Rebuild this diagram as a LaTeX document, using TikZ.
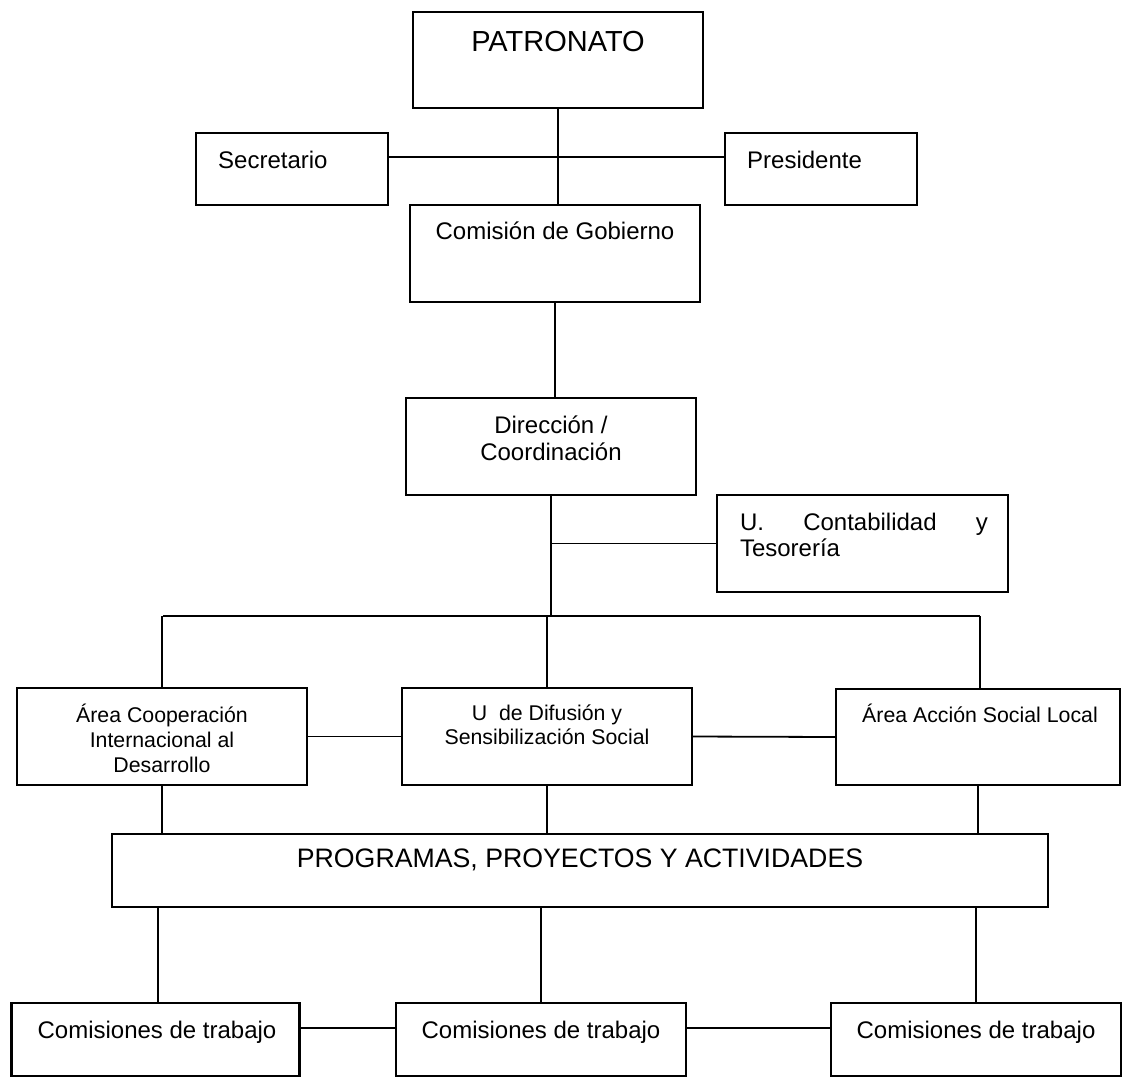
\documentclass[tikz,border=0pt]{standalone}
\usepackage{fontspec}
\setmainfont{Liberation Sans}
\tikzset{
  box/.style={draw, rectangle, line width=2.2pt, inner sep=0pt},
  conn/.style={line width=1.8pt},
  txt/.style={inner sep=0pt, align=center, font=\fontsize{24}{27}\selectfont},
  midtxt/.style={txt, font=\fontsize{21.3}{25}\selectfont},
}
\begin{document}
\begin{tikzpicture}[x=1pt, y=-1pt]
\useasboundingbox (0,0) rectangle (1123,1079);
% top
\node[box, minimum width=290pt, minimum height=96pt] (pat) at (558,60) {};
\node[txt, font=\fontsize{29}{32}\selectfont] (patt) at (558,42) {PATRONATO};
\node[box, minimum width=192pt, minimum height=72pt] (sec) at (292,169) {};
\node[txt, anchor=west] (sect) at (218,160) {Secretario};
\node[box, minimum width=192pt, minimum height=72pt] (pres) at (821,169) {};
\node[txt, anchor=west] (prest) at (747,160) {Presidente};
\node[box, minimum width=290pt, minimum height=97pt] (cg) at (555,253.5) {};
\node[txt] (cgt) at (555,231) {Comisión de Gobierno};
\node[box, minimum width=290pt, minimum height=97pt] (dir) at (551,446.5) {};
\node[txt] (dirt) at (551,438.5) {Dirección /\\Coordinación};
\node[box, minimum width=291pt, minimum height=97pt] (cont) at (862.5,543.5) {};
\node[txt, align=left, font=\fontsize{24}{26}\selectfont] (contt) at (864,535) {\makebox[248pt][s]{U.\ Contabilidad y}\\Tesorería};
% middle row
\node[box, minimum width=290pt, minimum height=97pt] (aco) at (162,736.5) {};
\node[midtxt] (acot) at (162,738) {Área Cooperación\\Internacional al\\Desarrollo};
\node[box, minimum width=290pt, minimum height=97pt] (dif) at (547,736.5) {};
\node[midtxt, font=\fontsize{21.3}{24}\selectfont] (dift) at (547,725) {U\ \ de Difusión y\\Sensibilización Social};
\node[box, minimum width=284pt, minimum height=96pt] (asl) at (978,737) {};
\node[midtxt] (aslt) at (980,713) {Área Acción Social Local};
% programas
\node[box, minimum width=936pt, minimum height=73pt] (prog) at (580,870.5) {};
\node[txt, font=\fontsize{26.7}{30}\selectfont] (progt) at (580,860) {PROGRAMAS, PROYECTOS Y ACTIVIDADES};
% comisiones
\node[box, minimum width=288pt, minimum height=73pt] (c1) at (155.5,1039.5) {};
\node[txt] (c1t) at (157,1032) {Comisiones de trabajo};
\node[box, minimum width=290pt, minimum height=73pt] (c2) at (541,1039.5) {};
\node[txt] (c2t) at (541,1032) {Comisiones de trabajo};
\node[box, minimum width=290pt, minimum height=73pt] (c3) at (976,1039.5) {};
\node[txt] (c3t) at (976,1032) {Comisiones de trabajo};
% connectors
\draw[conn] (pat.south) -- (pat.south |- cg.north);
\draw[conn] ([yshift=12pt]sec.east) -- ([yshift=12pt]pres.west);
\draw[conn] (cg.south) -- (cg.south |- dir.north);
\coordinate (hl) at (163,616);
\coordinate (hr) at (980,616);
\draw[conn] (hl) -- (hr);
\draw[conn] (dir.south) -- (dir.south |- hl);
\draw[conn] (dir.south |- cont.west) -- (cont.west);
\draw[conn] (aco.north) -- (aco.north |- hl);
\draw[conn] (dif.north) -- (dif.north |- hl);
\draw[conn] (asl.north -| hr) -- (hr);
\draw[conn] (aco.east) -- (dif.west);
\draw[conn] (dif.east) -- (asl.west);
\draw[conn] (aco.south) -- (aco.south |- prog.north);
\draw[conn] (dif.south) -- (dif.south |- prog.north);
\draw[conn] (asl.south) -- (asl.south |- prog.north);
\draw[conn] (c1.north -| 158,0) -- (prog.south -| 158,0);
\draw[conn] (c2.north) -- (c2.north |- prog.south);
\draw[conn] (c3.north) -- (c3.north |- prog.south);
\draw[conn] ([yshift=11.5pt]c1.east) -- ([yshift=11.5pt]c2.west);
\draw[conn] ([yshift=11.5pt]c2.east) -- ([yshift=11.5pt]c3.west);
\end{tikzpicture}
\end{document}
